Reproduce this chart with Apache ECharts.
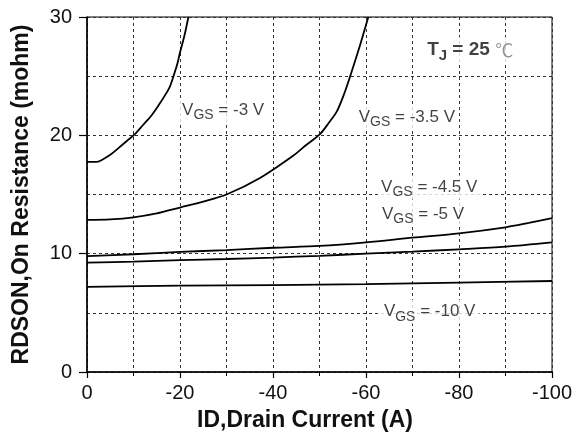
<!DOCTYPE html>
<html>
<head>
<meta charset="utf-8">
<script src="https://cdn.jsdelivr.net/npm/echarts@6/dist/echarts.min.js"></script>
<style>html,body{margin:0;padding:0;background:#fff}#c{width:576px;height:439px}</style>
</head>
<body>
<div id="c"></div>
<script>
// ---- data ----
const xTicks = [0, -20, -40, -60, -80, -100];
const yTicks = [0, 10, 20, 30];

const id_3 = [0, -2, -3.1, -5, -6.7, -8.5, -10.3, -12, -13.9, -15.5, -16.8, -17.8, -18.6, -19.4, -20, -21, -21.8];
const r_3  = [17.75, 17.75, 17.9, 18.35, 18.9, 19.5, 20.1, 20.85, 21.7, 22.6, 23.4, 24.1, 25.0, 26.0, 27.0, 28.5, 30];

const id_35 = [0, -5, -10, -15, -20, -25, -30, -37.2, -44.4, -47.2, -50.1, -51.9, -53.7, -55.2, -56.6, -58.7, -60.5];
const r_35  = [12.85, 12.9, 13.07, 13.4, 13.9, 14.4, 15.0, 16.4, 18.3, 19.2, 20.1, 21.0, 22.0, 23.4, 25.0, 27.6, 30];

const id_45 = [0, -10, -20, -30, -40, -50, -60, -70, -80, -90, -95, -100];
const r_45  = [9.8, 9.95, 10.15, 10.3, 10.5, 10.65, 10.95, 11.35, 11.72, 12.23, 12.6, 13.0];

const id_5 = [0, -10, -20, -30, -40, -50, -60, -70, -80, -90, -100];
const r_5  = [9.25, 9.33, 9.45, 9.55, 9.67, 9.82, 10.0, 10.17, 10.37, 10.6, 10.96];

const id_10 = [0, -20, -40, -60, -80, -100];
const r_10  = [7.2, 7.3, 7.35, 7.42, 7.55, 7.69];

const vgsNames = ['-3 V', '-3.5 V', '-4.5 V', '-5 V', '-10 V'];
const tjText = '25';

// ---- build ----
const FONT = "'Liberation Sans', Arial, sans-serif";
function pairs(xs, ys) { return xs.map((x, i) => [x, ys[i]]); }

const curves = [[id_3, r_3], [id_35, r_35], [id_45, r_45], [id_5, r_5], [id_10, r_10]];
const lineSeries = curves.map((c, i) => ({
  name: 'VGS = ' + vgsNames[i],
  type: 'line',
  data: pairs(c[0], c[1]),
  smooth: 0.3,
  showSymbol: false,
  symbol: 'none',
  lineStyle: { color: '#000', width: 1.8 },
  silent: true,
  z: 3
}));

// annotation anchor points (left-centre of each label), in data units
const annotAnchors = [[-19.8, 22.1], [-57.8, 21.5], [-62.6, 15.6], [-62.8, 13.3], [-63.2, 5.1]];
const annotData = annotAnchors.map((a, i) => ({ value: a, txt: vgsNames[i] }));

const richV = {
  m: { fontFamily: FONT, fontSize: 17, color: '#111', lineHeight: 24, verticalAlign: 'middle' },
  s: { fontFamily: FONT, fontSize: 14, color: '#111', lineHeight: 12, verticalAlign: 'bottom' }
};

const annotSeries = {
  type: 'scatter',
  data: annotData,
  symbolSize: 0,
  silent: true,
  z: 5,
  label: {
    show: true,
    position: 'right',
    distance: 0,
    backgroundColor: '#fff',
    padding: [0, 4, 0, 3],
    formatter: p => '{m|V}{s|GS}{m| = ' + p.data.txt + '}',
    rich: richV
  }
};

const tjSeries = {
  type: 'scatter',
  data: [{ value: [-72.5, 27.2] }],
  symbolSize: 0,
  silent: true,
  z: 5,
  label: {
    show: true,
    position: 'right',
    distance: 0,
    backgroundColor: '#fff',
    padding: [0, 3, 0, 3],
    formatter: () => '{t|T}{j|J}{t| = ' + tjText + ' }{c|℃}',
    rich: {
      t: { fontFamily: FONT, fontSize: 19, fontWeight: 'bold', color: '#111', lineHeight: 26, verticalAlign: 'middle' },
      j: { fontFamily: FONT, fontSize: 15, fontWeight: 'bold', color: '#111', lineHeight: 13, verticalAlign: 'bottom' },
      c: { fontFamily: "'Noto Sans CJK SC', sans-serif", fontSize: 18, color: '#777', lineHeight: 26, verticalAlign: 'middle' }
    }
  }
};

const chart = echarts.init(document.getElementById('c'), null, { renderer: 'canvas' });
chart.setOption({
  animation: false,
  backgroundColor: '#fff',
  grid: {
    left: 87, right: 24, top: 17, bottom: 67,
    containLabel: false,
    show: true, borderColor: '#000', borderWidth: 1, backgroundColor: 'transparent'
  },
  xAxis: {
    type: 'value',
    min: -100, max: 0, interval: 20,
    inverse: true,
    name: 'ID,Drain Current (A)',
    nameLocation: 'middle',
    nameGap: 37,
    nameTextStyle: { fontFamily: FONT, fontSize: 23, fontWeight: 'bold', color: '#111', padding: [0, 29, 0, 0] },
    axisLine: { show: true, onZero: false, lineStyle: { color: '#000', width: 1.5 } },
    axisTick: { show: true, length: 6, lineStyle: { color: '#000', width: 1.2 } },
    minorTick: { show: true, splitNumber: 2, length: 4, lineStyle: { color: '#000', width: 1 } },
    axisLabel: {
      margin: 11, fontFamily: FONT, fontSize: 20, color: '#111',
      formatter: v => (xTicks.indexOf(v) >= 0 ? String(v) : '')
    },
    splitLine: { show: true, lineStyle: { color: '#333', width: 1, type: [3, 3] } },
    minorSplitLine: { show: true, lineStyle: { color: '#333', width: 1, type: [3, 3] } }
  },
  yAxis: {
    type: 'value',
    min: 0, max: 30, interval: 10,
    name: 'RDSON,On Resistance (mohm)',
    nameLocation: 'middle',
    nameGap: 54,
    nameTextStyle: { fontFamily: FONT, fontSize: 23, fontWeight: 'bold', color: '#111' },
    axisLine: { show: true, onZero: false, lineStyle: { color: '#000', width: 1.5 } },
    axisTick: { show: true, length: 8, lineStyle: { color: '#000', width: 1.2 } },
    minorTick: { show: false, splitNumber: 2 },
    axisLabel: {
      margin: 15, fontFamily: FONT, fontSize: 20, color: '#111',
      formatter: v => (yTicks.indexOf(v) >= 0 ? String(v) : '')
    },
    splitLine: { show: true, lineStyle: { color: '#333', width: 1, type: [3, 3] } },
    minorSplitLine: { show: true, lineStyle: { color: '#333', width: 1, type: [3, 3] } }
  },
  series: lineSeries.concat([annotSeries, tjSeries])
});
</script>
</body>
</html>
